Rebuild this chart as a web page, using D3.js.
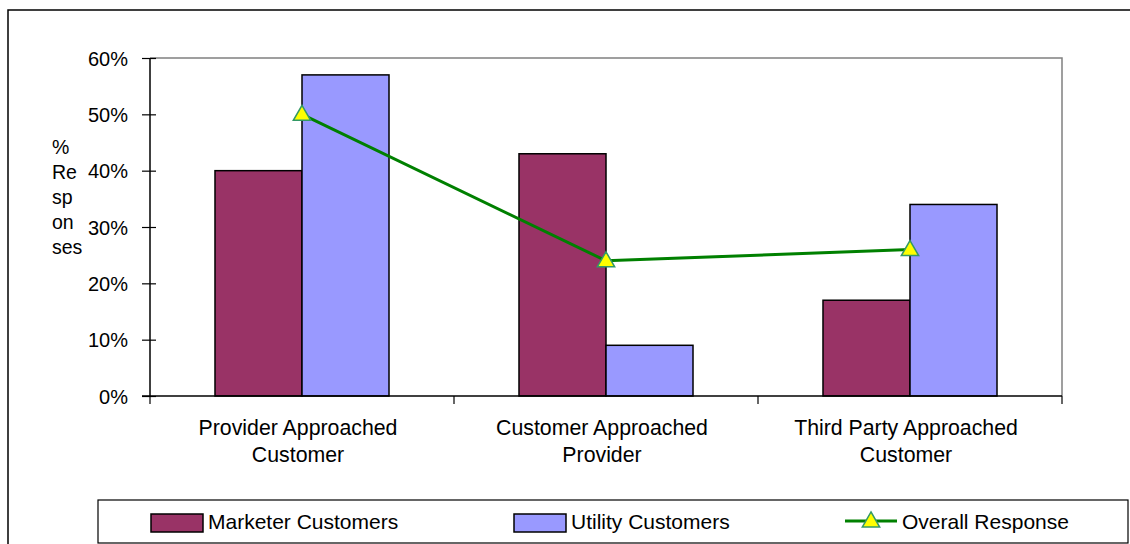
<!DOCTYPE html>
<html>
<head>
<meta charset="utf-8">
<script src="https://cdn.jsdelivr.net/npm/d3@7"></script>
<style>
  body { margin: 0; background: #fff; }
  svg { display: block; font-family: "Liberation Sans", Arial, sans-serif; }
</style>
</head>
<body>
<svg id="chart" width="1130" height="544"></svg>
<script>
var categories = [["Provider Approached", "Customer"], ["Customer Approached", "Provider"], ["Third Party Approached", "Customer"]];
var seriesNames = ["Marketer Customers", "Utility Customers"];
var marketerValues = [40, 43, 17];
var utilityValues = [57, 9, 34];
var overallValues = [50, 24, 26];
var yTicks = [0, 10, 20, 30, 40, 50, 60];
var yLabelLines = ["%", "Re", "sp", "on", "ses"];

var barColors = ["#993366", "#9999ff"];
var lineColor = "#008000";

var svg = d3.select("#chart");

var plotLeft = 150, plotRight = 1062, plotTop = 58, plotBottom = 396;

// outer chart border (runs off right/bottom edge)
svg.append("rect")
    .attr("x", 8).attr("y", 10)
    .attr("width", 1140).attr("height", 560)
    .attr("fill", "#fff")
    .attr("stroke", "#000").attr("stroke-width", 1.5);

var x0 = d3.scaleBand()
    .domain(d3.range(categories.length))
    .range([plotLeft, plotRight])
    .padding(0);

var x1 = d3.scaleBand()
    .domain(seriesNames)
    .range([0, x0.bandwidth()])
    .paddingInner(0)
    .paddingOuter(0.747);

var y = d3.scaleLinear().domain([0, 60]).range([plotBottom, plotTop]);

// plot frame (grey top/right)
svg.append("path")
    .attr("d", "M" + plotLeft + "," + plotTop + "H" + plotRight + "V" + plotBottom)
    .attr("fill", "none")
    .attr("stroke", "#808080").attr("stroke-width", 1.5);

// bars
var rows = categories.map(function(c, i){
    return [marketerValues[i], utilityValues[i]];
});

var groups = svg.append("g").selectAll("g")
    .data(rows)
    .join("g")
    .attr("transform", function(d, i){ return "translate(" + x0(i) + ",0)"; });

groups.selectAll("rect")
    .data(function(d){ return d.map(function(v, j){ return {v: v, s: seriesNames[j], j: j}; }); })
    .join("rect")
    .attr("x", function(d){ return x1(d.s); })
    .attr("y", function(d){ return y(d.v); })
    .attr("width", x1.bandwidth())
    .attr("height", function(d){ return y(0) - y(d.v); })
    .attr("fill", function(d){ return barColors[d.j]; })
    .attr("stroke", "#000")
    .attr("stroke-width", 1.5);

// y axis
var yAxis = svg.append("g")
    .attr("transform", "translate(" + plotLeft + ",0)")
    .call(d3.axisLeft(y).tickValues(yTicks).tickSize(8).tickFormat(function(d){ return d + "%"; }));
yAxis.select(".domain").attr("stroke", "#000").attr("stroke-width", 1.5).attr("d", "M0," + plotTop + "V" + plotBottom);
yAxis.selectAll(".tick line").attr("x2", -8).attr("x1", 6).attr("stroke", "#000").attr("stroke-width", 1.2);
yAxis.selectAll(".tick text")
    .attr("x", -22)
    .attr("dy", "0.35em")
    .attr("font-size", "20px")
    .attr("font-family", "Liberation Sans, Arial, sans-serif")
    .attr("fill", "#000");

// x axis
var xAxis = svg.append("g")
    .attr("transform", "translate(0," + plotBottom + ")");
xAxis.append("line")
    .attr("x1", plotLeft - 8).attr("x2", plotRight)
    .attr("stroke", "#000").attr("stroke-width", 1.5);
xAxis.selectAll(".xtick")
    .data(d3.range(categories.length + 1))
    .join("line")
    .attr("class", "xtick")
    .attr("x1", function(i){ return i < categories.length ? x0(i) : x0(i - 1) + x0.bandwidth(); })
    .attr("x2", function(i){ return i < categories.length ? x0(i) : x0(i - 1) + x0.bandwidth(); })
    .attr("y1", 0).attr("y2", 8)
    .attr("stroke", "#000").attr("stroke-width", 1.2);

var catLabels = svg.append("g").selectAll("text")
    .data(categories)
    .join("text")
    .attr("x", function(d, i){ return x0(i) + x0.bandwidth() / 2 - 4; })
    .attr("y", 435)
    .attr("text-anchor", "middle")
    .attr("font-size", "21.3px")
    .attr("fill", "#000");
catLabels.selectAll("tspan")
    .data(function(d){ return d; })
    .join("tspan")
    .attr("x", function(){ return this.parentNode.getAttribute("x"); })
    .attr("dy", function(d, i){ return i === 0 ? 0 : 27; })
    .text(function(d){ return d; });

// y axis title, stacked
svg.append("g").selectAll("text")
    .data(yLabelLines)
    .join("text")
    .attr("x", 52)
    .attr("y", function(d, i){ return 154 + i * 25; })
    .attr("font-size", "19.5px")
    .attr("fill", "#000")
    .text(function(d){ return d; });

// overall response line
var cx = function(d, i){ return x0(i) + x0.bandwidth() / 2; };
var line = d3.line().x(cx).y(function(d){ return y(d); });

svg.append("path")
    .datum(overallValues)
    .attr("d", line)
    .attr("fill", "none")
    .attr("stroke", lineColor)
    .attr("stroke-width", 3);

var tri = d3.symbol().type(d3.symbolTriangle).size(130);
svg.append("g").selectAll("path")
    .data(overallValues)
    .join("path")
    .attr("d", tri)
    .attr("transform", function(d, i){ return "translate(" + cx(d, i) + "," + (y(d) + 1) + ")"; })
    .attr("fill", "#ffff00")
    .attr("stroke", "#339966")
    .attr("stroke-width", 1.5);

// legend
var legend = svg.append("g");
legend.append("rect")
    .attr("x", 98).attr("y", 500)
    .attr("width", 1030).attr("height", 43)
    .attr("fill", "#fff")
    .attr("stroke", "#000").attr("stroke-width", 1.2);

var legendX = [151, 514];
seriesNames.forEach(function(name, i){
    legend.append("rect")
        .attr("x", legendX[i]).attr("y", 514)
        .attr("width", 52).attr("height", 18)
        .attr("fill", barColors[i])
        .attr("stroke", "#000").attr("stroke-width", 1.5);
    legend.append("text")
        .attr("x", legendX[i] + 57).attr("y", 529)
        .attr("font-size", "21px")
        .attr("fill", "#000")
        .text(name);
});
legend.append("line")
    .attr("x1", 845).attr("x2", 897)
    .attr("y1", 521).attr("y2", 521)
    .attr("stroke", lineColor).attr("stroke-width", 3);
legend.append("path")
    .attr("d", tri)
    .attr("transform", "translate(871,522)")
    .attr("fill", "#ffff00")
    .attr("stroke", "#339966")
    .attr("stroke-width", 1.5);
legend.append("text")
    .attr("x", 902).attr("y", 529)
    .attr("font-size", "21px")
    .attr("fill", "#000")
    .text("Overall Response");
</script>
</body>
</html>
